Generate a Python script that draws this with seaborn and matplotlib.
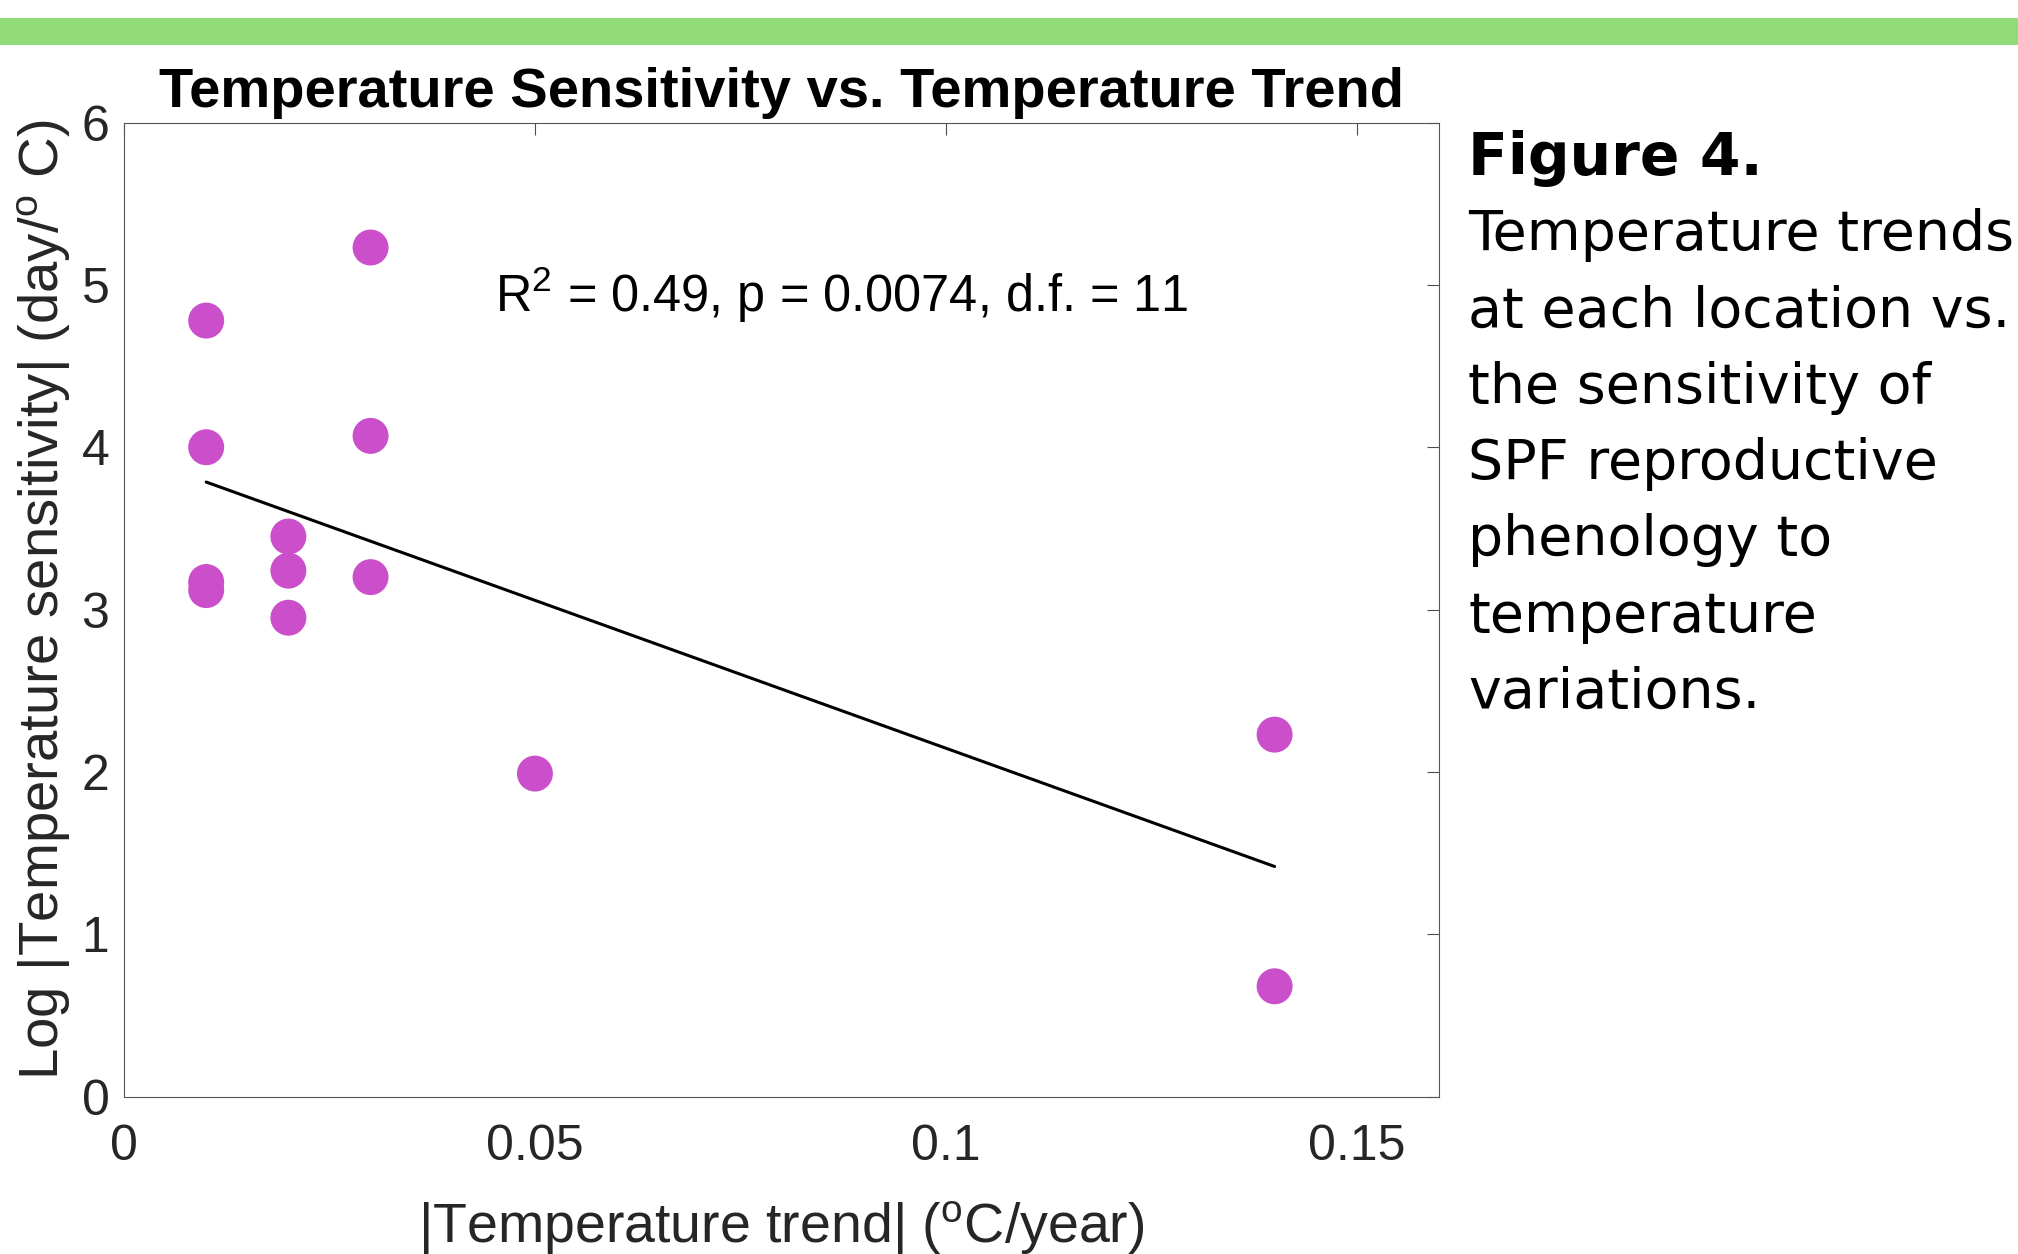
import numpy as np
import pandas as pd
import matplotlib
matplotlib.use('Agg')
import matplotlib.pyplot as plt
from matplotlib.patches import Rectangle
import seaborn as sns

#data: |temperature trend| vs log |temperature sensitivity|
trend = [0.01, 0.01, 0.01, 0.01, 0.02, 0.02, 0.02, 0.03, 0.03, 0.03, 0.05, 0.14, 0.14]
sensitivity = [4.78, 4.00, 3.17, 3.12, 3.45, 3.24, 2.95, 5.23, 4.07, 3.20, 1.99, 2.23, 0.68]
x_ticks = [0, 0.05, 0.1, 0.15]
x_tick_labels = ['0', '0.05', '0.1', '0.15']
y_ticks = [0, 1, 2, 3, 4, 5, 6]
stats_text = 'R$^2$ = 0.49, p = 0.0074, d.f. = 11'
caption_title = 'Figure 4.'
caption_lines = ['Temperature trends', 'at each location vs.', 'the sensitivity of',
                 'SPF reproductive', 'phenology to', 'temperature', 'variations.']

df = pd.DataFrame({'trend': trend, 'sensitivity': sensitivity})

sns.set_style('white')
plt.rcParams['font.family'] = ['Liberation Sans', 'DejaVu Sans']
plt.rcParams['mathtext.fontset'] = 'custom'
plt.rcParams['mathtext.rm'] = 'Liberation Sans'
plt.rcParams['mathtext.it'] = 'Liberation Sans:italic'
plt.rcParams['mathtext.bf'] = 'Liberation Sans:bold'

fig = plt.figure(figsize=(20.18, 12.54), dpi=100)
ax = fig.add_axes([0.06145, 0.12544, 0.65163, 0.77687])

#green banner at the top of the slide
fig.add_artist(Rectangle((0, 1 - 45 / 1254), 1, 27 / 1254, transform=fig.transFigure,
                         facecolor='#90DA78', edgecolor='none', zorder=0))

#points + fitted line
sns.scatterplot(data=df, x='trend', y='sensitivity', s=670, color='#CB4FCB',
                edgecolor='none', linewidth=0, ax=ax, zorder=2)
sns.regplot(data=df, x='trend', y='sensitivity', scatter=False, ci=None, truncate=True,
            color='black', line_kws={'linewidth': 2.2, 'zorder': 3}, ax=ax)

ax.set_xlim(0, 0.16)
ax.set_ylim(0, 6)
ax.set_xticks(x_ticks, x_tick_labels)
ax.set_yticks(y_ticks)

ax.tick_params(direction='in', length=8.6, width=0.8, color='#4d4d4d',
               labelsize=36, labelcolor='#262626', top=True, right=True)
ax.tick_params(axis='x', pad=20)
ax.tick_params(axis='y', pad=10.5)
for sp in ax.spines.values():
    sp.set_color('#555555')
    sp.set_linewidth(0.8)
    sp.set_visible(True)

ax.set_xlabel('|Temperature trend| ($^\\mathrm{o}$C/year)', fontsize=40, color='#262626', va='baseline')
ax.xaxis.set_label_coords(0.5, (1096.7 - 1243) / 974.2)
ax.set_ylabel('Log |Temperature sensitivity| (day/$^\\mathrm{o}$ C)', fontsize=40.6, color='#262626', va='baseline')
ax.yaxis.set_label_coords((59 - 124) / 1315, 0.51)

ax.text(0.5, 1 + (122.5 - 107) / 974.2, 'Temperature Sensitivity vs. Temperature Trend',
        transform=ax.transAxes, ha='center', va='baseline', fontsize=40.4, fontweight='bold', color='black')
ax.text(0.0452, 4.833, stats_text, ha='left', va='baseline', fontsize=36.4, color='black')

#caption on the right
cap_x = 1468 / 2018
fig.text(cap_x, 1 - 175 / 1254, caption_title, family='DejaVu Sans', fontsize=42,
         fontweight='bold', va='baseline', ha='left', color='black')
for i, line in enumerate(caption_lines):
    fig.text(cap_x, 1 - (250 + 76.3 * i) / 1254, line, family='DejaVu Sans', fontsize=40,
             va='baseline', ha='left', color='black')

fig.savefig('out.png', dpi=100)
